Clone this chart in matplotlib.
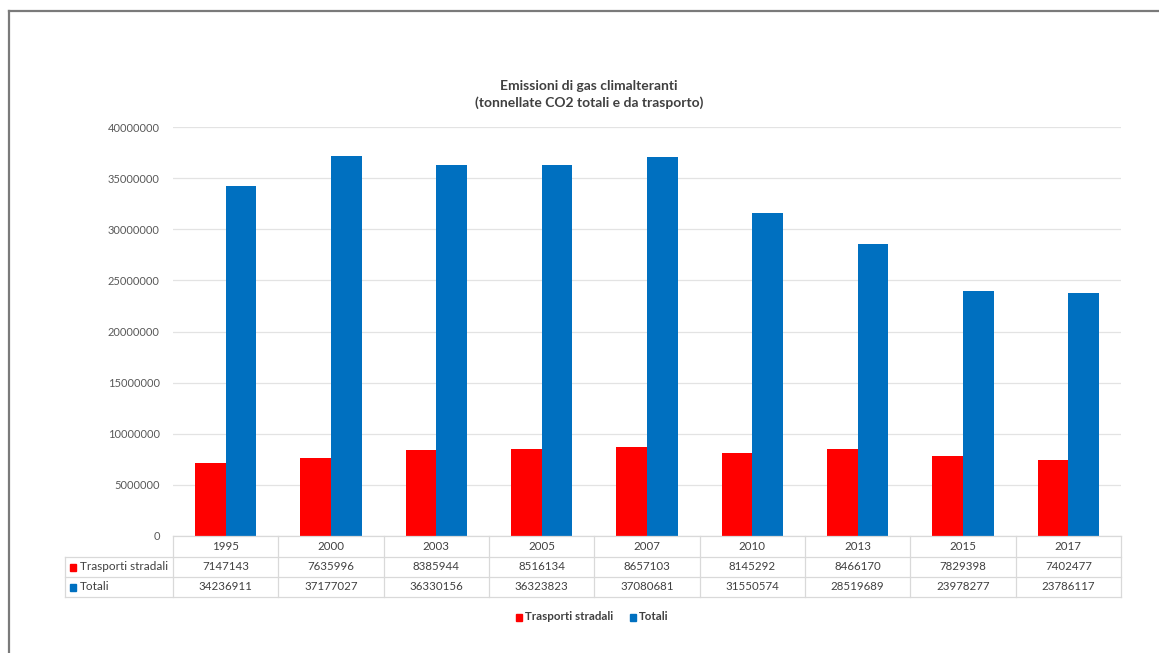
import numpy as np
import matplotlib.pyplot as plt
from matplotlib.patches import Rectangle
from matplotlib.transforms import blended_transform_factory

plt.rcParams['font.family'] = ['Lato', 'DejaVu Sans']

anni = ['1995', '2000', '2003', '2005', '2007', '2010', '2013', '2015', '2017']
trasporti = [7147143, 7635996, 8385944, 8516134, 8657103, 8145292, 8466170, 7829398, 7402477]
totali = [34236911, 37177027, 36330156, 36323823, 37080681, 31550574, 28519689, 23978277, 23786117]
serie = ['Trasporti stradali', 'Totali']
colori = ['#ff0000', '#0070c0']
yticks = [0, 5000000, 10000000, 15000000, 20000000, 25000000, 30000000, 35000000, 40000000]

W, H = 1159, 653
fig = plt.figure(figsize=(W / 100, H / 100), dpi=100)
fig.patch.set_facecolor('white')
fy = lambda py: 1 - py / H

# cornice grigia esterna
fig.add_artist(plt.Line2D([9 / W, 9 / W], [0, fy(11)], color='#7a7a7a', lw=1.6))
fig.add_artist(plt.Line2D([9 / W, 1], [fy(11), fy(11)], color='#7a7a7a', lw=1.6))

left, right = 173 / W, 1121 / W
bottom, top = fy(536), fy(127)
ax = fig.add_axes([left, bottom, right - left, top - bottom])

x = np.arange(len(anni))
bw = 0.29
ax.bar(x - bw / 2, trasporti, bw, color=colori[0], zorder=3)
ax.bar(x + bw / 2, totali, bw, color=colori[1], zorder=3)

ax.set_xlim(-0.5, len(anni) - 0.5)
ax.set_ylim(0, 40000000)
ax.set_yticks(yticks)
ax.set_yticklabels([str(v) for v in yticks], fontsize=8, color='#595959')
ax.tick_params(axis='y', length=0, pad=9.5)
ax.tick_params(axis='x', length=0, labelbottom=False)
ax.yaxis.grid(True, color='#e3e3e3', lw=0.9, zorder=0)
for s in ax.spines.values():
    s.set_visible(False)

# tabella dati sotto il grafico
tr = blended_transform_factory(ax.transData, fig.transFigure)
linea = dict(color='#d9d9d9', lw=0.9)
rows = [536, 557, 577, 597]
fig.add_artist(plt.Line2D([-0.5, len(anni) - 0.5], [fy(rows[0])] * 2, transform=tr, **linea))
for py in rows[1:]:
    fig.add_artist(plt.Line2D([65 / W, right], [fy(py)] * 2, **linea))
for b in np.arange(-0.5, len(anni), 1.0):
    fig.add_artist(plt.Line2D([b, b], [fy(rows[0]), fy(rows[-1])], transform=tr, **linea))
fig.add_artist(plt.Line2D([65 / W, 65 / W], [fy(rows[1]), fy(rows[-1])], **linea))

tc = '#404040'
centri = [(rows[k] + rows[k + 1]) / 2 for k in range(3)]
for i, a in enumerate(anni):
    fig.text(i, fy(centri[0]), a, transform=tr, ha='center', va='center', fontsize=8.3, color=tc)
    fig.text(i, fy(centri[1]), str(trasporti[i]), transform=tr, ha='center', va='center', fontsize=8.3, color=tc)
    fig.text(i, fy(centri[2]), str(totali[i]), transform=tr, ha='center', va='center', fontsize=8.3, color=tc)

for j, (nome, c) in enumerate(zip(serie, colori)):
    py = centri[1 + j]
    fig.add_artist(Rectangle((70 / W, fy(py + 3.5)), 6 / W, 7 / H, color=c, transform=fig.transFigure))
    fig.text(80 / W, fy(py), nome, ha='left', va='center', fontsize=8.5, color=tc)

# legenda
fig.add_artist(Rectangle((516 / W, fy(620.5)), 6 / W, 7 / H, color=colori[0], transform=fig.transFigure))
fig.text(525 / W, fy(617), serie[0], ha='left', va='center', fontsize=8.3, color=tc, fontweight='bold')
fig.add_artist(Rectangle((630 / W, fy(620.5)), 6 / W, 7 / H, color=colori[1], transform=fig.transFigure))
fig.text(639 / W, fy(617), serie[1], ha='left', va='center', fontsize=8.3, color=tc, fontweight='bold')

# titolo
fig.text(589 / W, fy(86), 'Emissioni di gas climalteranti', ha='center', va='center',
         fontsize=10, color='#404040', fontweight='bold')
fig.text(589 / W, fy(103), '(tonnellate CO2 totali e da trasporto)', ha='center', va='center',
         fontsize=10, color='#404040', fontweight='bold')

fig.savefig('out.png', dpi=100)
